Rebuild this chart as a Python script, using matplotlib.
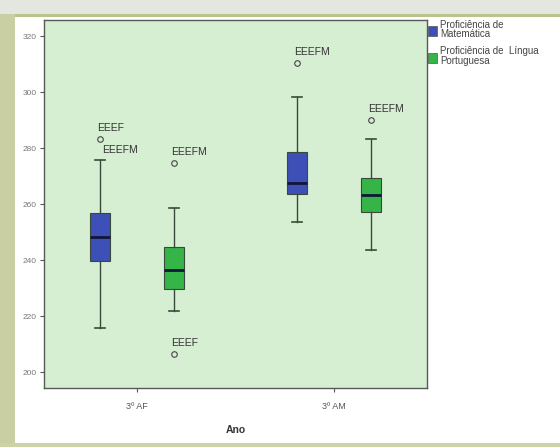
import matplotlib.pyplot as plt
from matplotlib.patches import Rectangle

plt.rcParams['font.family'] = ['Liberation Sans', 'DejaVu Sans']

# boxplot summaries per year group (whislo, q1, med, q3, whishi)
anos = ["3º AF", "3º AM"]
mat_stats = [(215.7, 239.6, 248.2, 256.8, 275.7), (253.6, 263.6, 267.5, 278.6, 298.2)]
port_stats = [(221.8, 229.6, 236.4, 244.6, 258.6), (243.6, 257.1, 263.2, 269.3, 283.2)]
mat_outliers = [[283.2], [310.4]]
port_outliers = [[274.6, 206.4], [290.0]]
mat_labels = [[("EEEF", 283.2), ("EEEFM", 277.5)], [("EEEFM", 310.4)]]
port_labels = [[("EEEFM", 274.6), ("EEEF", 206.4)], [("EEEFM", 290.0)]]
yticks = [200, 220, 240, 260, 280, 300, 320]

fig = plt.figure(figsize=(5.6, 4.47), dpi=100)
fig.patch.set_facecolor("white")

# picture frame around the chart
fig.patches.append(Rectangle((0, 0), 0.027, 1, transform=fig.transFigure,
                             facecolor="#c9cfa3", edgecolor="none", zorder=-1))
fig.patches.append(Rectangle((0, 0.968), 1, 0.032, transform=fig.transFigure,
                             facecolor="#e4e6e0", edgecolor="none", zorder=-1))
fig.patches.append(Rectangle((0.027, 0.962), 0.973, 0.007, transform=fig.transFigure,
                             facecolor="#b9c48e", edgecolor="none", zorder=-1))
fig.patches.append(Rectangle((0, 0), 1, 0.01, transform=fig.transFigure,
                             facecolor="#cdd2a8", edgecolor="none", zorder=-1))

ax = fig.add_axes([0.0786, 0.132, 0.684, 0.823])
ax.set_facecolor("#d6efd3")

offset = 0.188
width = 0.10


def make_stats(stats, outliers):
    out = []
    for (lo, q1, med, q3, hi), fl in zip(stats, outliers):
        out.append(dict(whislo=lo, q1=q1, med=med, q3=q3, whishi=hi, fliers=fl))
    return out


for stats, fl, dx, color in [(mat_stats, mat_outliers, -offset, "#3d50b8"),
                             (port_stats, port_outliers, offset, "#35b447")]:
    pos = [i + dx for i in range(len(anos))]
    ax.bxp(make_stats(stats, fl), positions=pos, widths=width, patch_artist=True,
           boxprops=dict(facecolor=color, edgecolor="#3a4a3a", linewidth=0.8),
           medianprops=dict(color="#10163a", linewidth=2),
           whiskerprops=dict(color="#3a4a3a", linewidth=1),
           capprops=dict(color="#3a4a3a", linewidth=1.2),
           capwidths=0.05,
           flierprops=dict(marker="o", markersize=4, markerfacecolor="none",
                           markeredgecolor="#444444", markeredgewidth=0.8))

# case labels for the outliers
for labels, dx in [(mat_labels, -offset), (port_labels, offset)]:
    for i, group in enumerate(labels):
        for txt, v in group:
            x = i + dx
            if txt == "EEEFM" and i == 0 and dx < 0:
                ax.text(x + 0.01, v, txt, fontsize=7.5, color="#333333", va="bottom")
            else:
                ax.text(x - 0.015, v + 2.2, txt, fontsize=7.5, color="#333333", va="bottom")

ax.set_xlim(-0.472, 1.472)
ax.set_ylim(194.3, 325.7)
ax.set_xticks(range(len(anos)))
ax.set_xticklabels(anos, fontsize=6.5, color="#555555")
ax.set_yticks(yticks)
ax.set_yticklabels([str(t) for t in yticks], fontsize=6, color="#777777")
ax.tick_params(axis="both", length=3, width=0.8, color="#555555")
ax.tick_params(axis="x", pad=7)
ax.tick_params(axis="y", pad=2)
ax.set_xlabel("Ano", fontsize=7.5, fontweight="bold", color="#333333", labelpad=10)
for s in ax.spines.values():
    s.set_color("#555a55")
    s.set_linewidth(1)

# legend squares and labels to the right of the plot
leg = [("#3d50b8", "Proficiência de\nMatemática", 0.920),
       ("#35b447", "Proficiência de  Língua\nPortuguesa", 0.860)]
for color, txt, y in leg:
    fig.patches.append(Rectangle((0.765, y), 0.016, 0.021, transform=fig.transFigure,
                                 facecolor=color, edgecolor="#555555", linewidth=0.5))
    fig.text(0.786, y + 0.036, txt, fontsize=7, color="#444444", va="top",
             linespacing=0.95)

fig.savefig("out.png", dpi=100)
